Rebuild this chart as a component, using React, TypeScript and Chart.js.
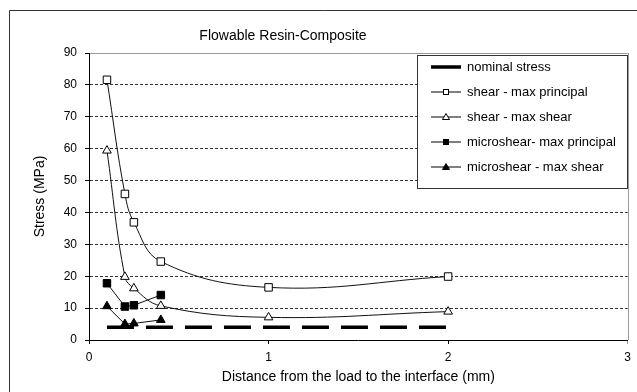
import React, { useEffect, useRef } from "react";
import { Chart, registerables } from "chart.js";

Chart.register(...registerables);

// ---- data ----
const seriesLabels = [
  "nominal stress",
  "shear - max principal",
  "shear - max shear",
  "microshear- max principal",
  "microshear - max shear",
];
const nominalX = [0.1, 2];
const nominalStress = [4, 4];
const shearX = [0.1, 0.2, 0.25, 0.4, 1, 2];
const shearMaxPrincipal = [81.6, 45.8, 36.9, 24.6, 16.5, 19.9];
const shearMaxShear = [59.4, 19.8, 16.2, 10.7, 7.1, 8.9];
const microX = [0.1, 0.2, 0.25, 0.4];
const microMaxPrincipal = [17.8, 10.5, 10.9, 14.1];
const microMaxShear = [10.6, 5.0, 5.2, 6.3];
const xTicks = [0, 1, 2, 3];
const yTicks = [0, 10, 20, 30, 40, 50, 60, 70, 80, 90];

const FONT = "'Liberation Sans', Arial, sans-serif";

const pts = (xs: number[], ys: number[]) => xs.map((x, i) => ({ x, y: ys[i] }));

const legendPlugin = {
  id: "boxLegend",
  afterDraw(chart: any) {
    const ctx = chart.ctx as CanvasRenderingContext2D;
    const ds = chart.data.datasets;
    ctx.save();
    const bx = 417.5, by = 55.5, bw = 210, bh = 133;
    ctx.fillStyle = "#fff";
    ctx.fillRect(bx, by, bw, bh);
    ctx.strokeStyle = "#333";
    ctx.lineWidth = 1;
    ctx.strokeRect(bx, by, bw, bh);
    ctx.font = "13px " + FONT;
    ctx.textBaseline = "middle";
    ctx.textAlign = "left";
    ds.forEach((d: any, i: number) => {
      const y = 67 + i * 25;
      ctx.strokeStyle = "#000";
      ctx.lineWidth = i === 0 ? 3.5 : 1;
      ctx.setLineDash([]);
      ctx.beginPath();
      ctx.moveTo(431, y);
      ctx.lineTo(461, y);
      ctx.stroke();
      const cx = 446;
      ctx.lineWidth = 1;
      if (d.pointStyle === "rect") {
        ctx.fillStyle = d.pointBackgroundColor;
        ctx.fillRect(cx - 2.5, y - 2.5, 5, 5);
        ctx.strokeRect(cx - 2.5, y - 2.5, 5, 5);
      } else if (d.pointStyle === "triangle") {
        ctx.fillStyle = d.pointBackgroundColor;
        ctx.beginPath();
        ctx.moveTo(cx, y - 3.5);
        ctx.lineTo(cx + 3.5, y + 2.5);
        ctx.lineTo(cx - 3.5, y + 2.5);
        ctx.closePath();
        ctx.fill();
        ctx.stroke();
      }
      ctx.fillStyle = "#000";
      ctx.fillText(d.label, 467, y);
    });
    ctx.restore();
  },
};

const framePlugin = {
  id: "frame",
  beforeDraw(chart: any) {
    const ctx = chart.ctx as CanvasRenderingContext2D;
    ctx.save();
    ctx.fillStyle = "#fff";
    ctx.fillRect(0, 0, chart.width, chart.height);
    ctx.strokeStyle = "#333";
    ctx.lineWidth = 1;
    ctx.beginPath();
    ctx.moveTo(9.5, chart.height);
    ctx.lineTo(9.5, 10.5);
    ctx.lineTo(chart.width, 10.5);
    ctx.stroke();
    ctx.fillStyle = "#000";
    ctx.font = "14px " + FONT;
    ctx.textAlign = "center";
    ctx.textBaseline = "middle";
    ctx.fillText("Flowable Resin-Composite", 283, 36);
    ctx.restore();
  },
  beforeDatasetsDraw(chart: any) {
    const { ctx, chartArea } = chart;
    ctx.save();
    ctx.strokeStyle = "#9a9a9a";
    ctx.lineWidth = 1;
    ctx.beginPath();
    ctx.moveTo(Math.round(chartArea.right) + 0.5, chartArea.top);
    ctx.lineTo(Math.round(chartArea.right) + 0.5, chartArea.bottom);
    ctx.stroke();
    ctx.restore();
  },
};

export default function App() {
  const ref = useRef<HTMLCanvasElement>(null);
  useEffect(() => {
    if (!ref.current) return;
    const common = {
      borderColor: "#111",
      borderWidth: 1,
      pointBorderColor: "#000",
      pointBorderWidth: 1,
    };
    const chart = new Chart(ref.current, {
      type: "line",
      data: {
        datasets: [
          {
            label: seriesLabels[0],
            data: pts(nominalX, nominalStress),
            borderColor: "#000",
            borderWidth: 3.5,
            borderDash: [27, 12],
            pointRadius: 0,
            pointStyle: false as any,
            order: 5,
          },
          {
            ...common,
            label: seriesLabels[1],
            data: pts(shearX, shearMaxPrincipal),
            tension: 0.4,
            pointStyle: "rect",
            pointRadius: 5.3,
            pointBackgroundColor: "#fff",
            order: 1,
          },
          {
            ...common,
            label: seriesLabels[2],
            data: pts(shearX, shearMaxShear),
            tension: 0.4,
            pointStyle: "triangle",
            pointRadius: 5,
            pointBackgroundColor: "#fff",
            order: 2,
          },
          {
            ...common,
            label: seriesLabels[3],
            data: pts(microX, microMaxPrincipal),
            tension: 0,
            pointStyle: "rect",
            pointRadius: 5.3,
            pointBackgroundColor: "#000",
            order: 3,
          },
          {
            ...common,
            label: seriesLabels[4],
            data: pts(microX, microMaxShear),
            tension: 0,
            pointStyle: "triangle",
            pointRadius: 5,
            pointBackgroundColor: "#000",
            order: 4,
          },
        ],
      },
      options: {
        animation: false,
        responsive: false,
        maintainAspectRatio: false,
        layout: { padding: { top: 53, right: 8, left: 0, bottom: 0 } },
        plugins: {
          legend: { display: false },
          title: { display: false },
          tooltip: { enabled: false },
        },
        scales: {
          x: {
            type: "linear",
            min: 0,
            max: 3,
            afterBuildTicks: (s: any) => {
              s.ticks = xTicks.map((v) => ({ value: v }));
            },
            afterFit: (s: any) => {
              s.height = 52;
            },
            ticks: {
              color: "#000",
              font: { family: FONT, size: 12 },
              padding: 6,
              maxRotation: 0,
              autoSkip: false,
            },
            grid: {
              drawOnChartArea: false,
              drawTicks: true,
              tickLength: 4,
              tickColor: (c: any) => (c.tick && c.tick.value === 3 ? "#9a9a9a" : "#000"),
            },
            border: { color: "#000", width: 1 },
            title: {
              display: true,
              text: "Distance from the load to the interface (mm)",
              color: "#000",
              font: { family: FONT, size: 14 },
              padding: { top: 0, bottom: 6.6 },
            },
          },
          y: {
            type: "linear",
            min: 0,
            max: 90,
            afterBuildTicks: (s: any) => {
              s.ticks = yTicks.map((v) => ({ value: v }));
            },
            afterFit: (s: any) => {
              s.width = 89;
            },
            ticks: {
              color: "#000",
              font: { family: FONT, size: 12 },
              padding: 8,
              autoSkip: false,
            },
            grid: {
              drawTicks: true,
              tickLength: 4,
              tickColor: "#000",
              tickBorderDash: [],
              color: (c: any) => (c.tick && c.tick.value === 90 ? "#9a9a9a" : "#333"),
            },
            border: {
              color: "#000",
              width: 1,
              dash: (c: any) => (c.tick && c.tick.value === 90 ? [] : [3, 2]),
            },
            title: {
              display: true,
              text: "Stress (MPa)",
              color: "#000",
              font: { family: FONT, size: 14 },
              padding: { top: 31.6, bottom: 0 },
            },
          },
        },
      },
      plugins: [framePlugin, legendPlugin],
    } as any);
    return () => chart.destroy();
  }, []);
  return (
    <div style={{ position: "absolute", left: 0, top: 0, width: 637, height: 392 }}>
      <canvas ref={ref} width={637} height={392} style={{ width: 637, height: 392 }} />
    </div>
  );
}
